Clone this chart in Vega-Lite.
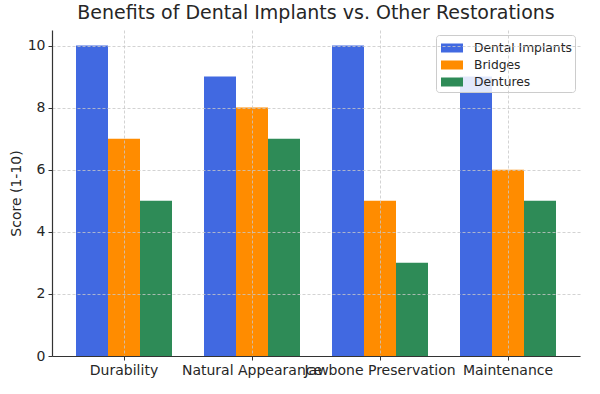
{
  "$schema": "https://vega.github.io/schema/vega-lite/v6.json",
  "autosize": "none",
  "padding": {"left": 52, "top": 30, "right": 20, "bottom": 38},
  "width": 528,
  "height": 326,
  "background": "white",
  "title": {
    "text": "Benefits of Dental Implants vs. Other Restorations",
    "font": "DejaVu Sans",
    "fontSize": 19,
    "fontWeight": "normal",
    "color": "#262626",
    "anchor": "middle",
    "offset": 7
  },
  "config": {
    "font": "DejaVu Sans",
    "view": {"stroke": null}
  },
  "data": {
    "values": [
      {"category": "Durability", "type": "Dental Implants", "score": 10},
      {"category": "Durability", "type": "Bridges", "score": 7},
      {"category": "Durability", "type": "Dentures", "score": 5},
      {"category": "Natural Appearance", "type": "Dental Implants", "score": 9},
      {"category": "Natural Appearance", "type": "Bridges", "score": 8},
      {"category": "Natural Appearance", "type": "Dentures", "score": 7},
      {"category": "Jawbone Preservation", "type": "Dental Implants", "score": 10},
      {"category": "Jawbone Preservation", "type": "Bridges", "score": 5},
      {"category": "Jawbone Preservation", "type": "Dentures", "score": 3},
      {"category": "Maintenance", "type": "Dental Implants", "score": 9},
      {"category": "Maintenance", "type": "Bridges", "score": 6},
      {"category": "Maintenance", "type": "Dentures", "score": 5}
    ]
  },
  "mark": {"type": "bar"},
  "encoding": {
    "x": {
      "field": "category",
      "type": "nominal",
      "sort": ["Durability", "Natural Appearance", "Jawbone Preservation", "Maintenance"],
      "scale": {"paddingInner": 0.25, "paddingOuter": 0.1875},
      "axis": {
        "title": null,
        "labelAngle": 0,
        "labelFontSize": 14,
        "labelColor": "#262626",
        "labelPadding": 3,
        "labelOverlap": false,
        "labelBound": false,
        "domainColor": "#333333",
        "domainWidth": 1.2,
        "tickColor": "#333333",
        "tickSize": 4,
        "tickBand": "center",
        "grid": true,
        "gridBand": "center",
        "gridDash": [3, 2],
        "gridColor": "#c8c8c8",
        "gridWidth": 0.8,
        "zindex": 1
      }
    },
    "xOffset": {
      "field": "type",
      "type": "nominal",
      "sort": ["Dental Implants", "Bridges", "Dentures"],
      "scale": {"paddingInner": 0, "paddingOuter": 0}
    },
    "y": {
      "field": "score",
      "type": "quantitative",
      "scale": {"domain": [0, 10.5], "nice": false},
      "axis": {
        "title": "Score (1-10)",
        "titleFontSize": 14,
        "titleFontWeight": "normal",
        "titleColor": "#262626",
        "titlePadding": 4,
        "values": [0, 2, 4, 6, 8, 10],
        "labelFontSize": 14,
        "labelColor": "#262626",
        "labelPadding": 3,
        "domainColor": "#333333",
        "domainWidth": 1.2,
        "tickColor": "#333333",
        "tickSize": 4,
        "grid": true,
        "gridDash": [3, 2],
        "gridColor": "#c8c8c8",
        "gridWidth": 0.8,
        "zindex": 1
      }
    },
    "color": {
      "field": "type",
      "type": "nominal",
      "sort": ["Dental Implants", "Bridges", "Dentures"],
      "scale": {
        "domain": ["Dental Implants", "Bridges", "Dentures"],
        "range": ["#4169E1", "#FF8C00", "#2E8B57"]
      },
      "legend": {
        "title": null,
        "orient": "none",
        "legendX": 384,
        "legendY": 5,
        "symbolType": "M-1.1,-0.45H1.1V0.45H-1.1Z",
        "symbolSize": 400,
        "symbolStrokeWidth": 0,
        "symbolOffset": 3,
        "labelOffset": 12,
        "labelFontSize": 12.3,
        "labelColor": "#262626",
        "rowPadding": 0,
        "padding": 3,
        "fillColor": "rgba(255,255,255,0.85)",
        "strokeColor": "#cccccc",
        "cornerRadius": 3
      }
    }
  }
}
